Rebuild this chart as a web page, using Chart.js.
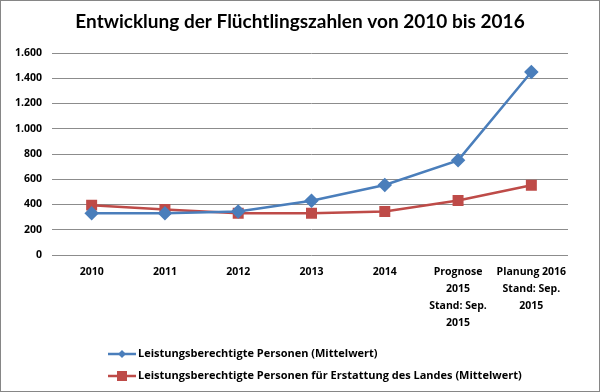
<!DOCTYPE html>
<html><head><meta charset="utf-8">
<script src="https://cdn.jsdelivr.net/npm/chart.js@4/dist/chart.umd.min.js"></script>
<style>html,body{margin:0;padding:0;background:#fff}#wrap{width:600px;height:392px}</style>
</head><body><div id="wrap"><canvas id="c" width="600" height="392"></canvas></div>
<script>
const categories = [["2010"],["2011"],["2012"],["2013"],["2014"],["Prognose","2015","Stand: Sep.","2015"],["Planung 2016","Stand: Sep.","2015"]];
const seriesNames = ["Leistungsberechtigte Personen (Mittelwert)","Leistungsberechtigte Personen für Erstattung des Landes (Mittelwert)"];
const personen = [330, 330, 345, 430, 555, 750, 1450];
const erstattung = [395, 360, 330, 330, 345, 432, 552];
const yTicks = [0, 200, 400, 600, 800, 1000, 1200, 1400, 1600];
const titleText = "Entwicklung der Flüchtlingszahlen von 2010 bis 2016";

const TFONT = "Lato";
const FONT = "'Open Sans'";
const BLUE = "#4A7EBB", RED = "#BE4B48";

const deco = {
  id: 'deco',
  afterDraw(chart) {
    const ctx = chart.ctx;
    ctx.save();
    ctx.strokeStyle = '#868686'; ctx.lineWidth = 1;
    ctx.strokeRect(0.5, 0.5, 599, 391);
    ctx.fillStyle = '#000';
    ctx.font = `bold 19px ${TFONT}`;
    ctx.textAlign = 'center'; ctx.textBaseline = 'middle';
    ctx.fillText(titleText, 300, 22);
    const items = [{c: BLUE, s: 'diamond', t: seriesNames[0], y: 354}, {c: RED, s: 'square', t: seriesNames[1], y: 376}];
    ctx.font = `bold 11px ${FONT}`;
    ctx.textAlign = 'left';
    items.forEach(it => {
      ctx.strokeStyle = it.c; ctx.lineWidth = 2.5;
      ctx.beginPath(); ctx.moveTo(108, it.y); ctx.lineTo(136, it.y); ctx.stroke();
      ctx.fillStyle = it.c;
      if (it.s === 'diamond') {
        ctx.beginPath(); ctx.moveTo(122, it.y - 4); ctx.lineTo(126, it.y); ctx.lineTo(122, it.y + 4); ctx.lineTo(118, it.y); ctx.closePath(); ctx.fill();
      } else {
        ctx.fillRect(117, it.y - 5, 10, 10);
      }
      ctx.fillStyle = '#000';
      ctx.fillText(it.t, 138, it.y);
    });
    ctx.restore();
  }
};

new Chart(document.getElementById('c'), {
  type: 'line',
  data: {
    labels: categories,
    datasets: [
      {label: seriesNames[0], data: personen, borderColor: BLUE, backgroundColor: BLUE, borderWidth: 2.5, pointStyle: 'rectRot', pointRadius: 5.5, pointHoverRadius: 5.5, tension: 0},
      {label: seriesNames[1], data: erstattung, borderColor: RED, backgroundColor: RED, borderWidth: 2.5, pointStyle: 'rect', pointRadius: 6, pointHoverRadius: 6, tension: 0}
    ]
  },
  options: {
    responsive: false, animation: false, devicePixelRatio: 1,
    layout: {padding: {top: 53, right: 32, left: 0, bottom: 0}},
    plugins: {legend: {display: false}, title: {display: false}, tooltip: {enabled: false}},
    scales: {
      x: {
        offset: true,
        grid: {display: false},
        border: {display: false},
        ticks: {color: '#000', font: {family: FONT, weight: 'bold', size: 10.5, lineHeight: 1.6}, maxRotation: 0, autoSkip: false, padding: 1},
        afterFit(s) { s.height = 137; }
      },
      y: {
        min: 0, max: 1600,
        afterBuildTicks(s) { s.ticks = yTicks.map(v => ({value: v})); },
        grid: {color: '#8C8C8C', lineWidth: 1, tickLength: 3, drawTicks: true},
        border: {display: false},
        ticks: {color: '#000', font: {family: FONT, weight: 'bold', size: 10.5}, padding: 10,
          callback: v => v.toLocaleString('de-DE')},
        afterFit(s) { s.width = 55; }
      }
    }
  },
  plugins: [deco]
});
</script></body></html>
